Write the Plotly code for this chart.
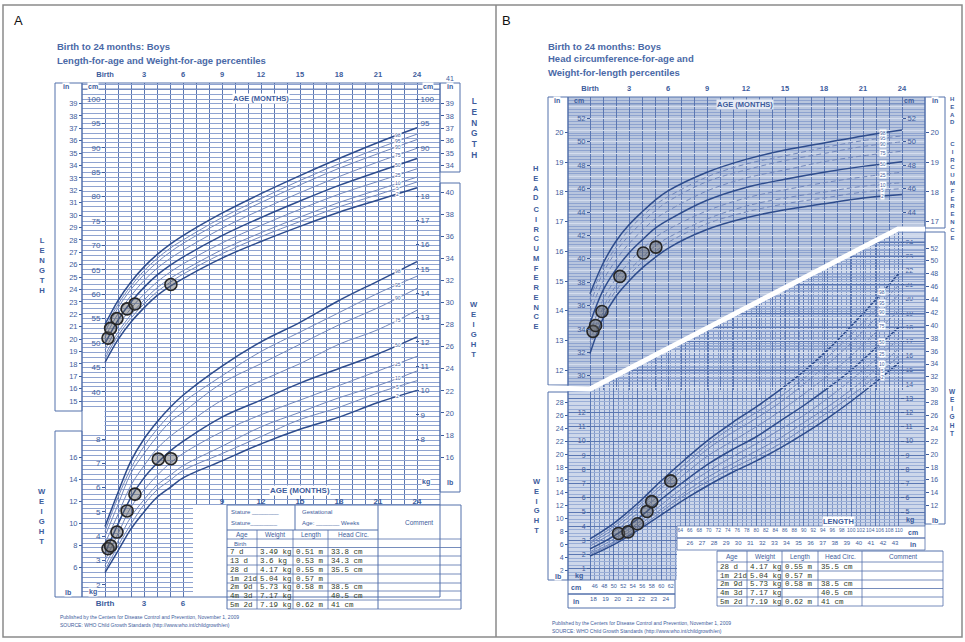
import plotly.graph_objects as go

W, H = 965, 642

# ---------------- data ----------------
PCT = ["2", "5", "10", "25", "50", "75", "90", "95", "98"]
AGE_MO = [0, 1, 2, 3, 4, 5, 6, 9, 12, 15, 18, 21, 24]
AGE_TICKS = [0, 3, 6, 9, 12, 15, 18, 21, 24]
AGE_TICKTEXT = ["Birth", "3", "6", "9", "12", "15", "18", "21", "24"]

LENGTH_FOR_AGE = {
    "2":  [46.0, 50.7, 54.3, 57.2, 59.7, 61.6, 63.2, 67.4, 70.8, 73.9, 76.8, 79.3, 81.8],
    "5":  [46.8, 51.5, 55.1, 58.0, 60.5, 62.4, 64.1, 68.3, 71.8, 74.9, 77.9, 80.4, 83.0],
    "10": [47.5, 52.2, 55.8, 58.8, 61.3, 63.2, 64.8, 69.1, 72.6, 75.8, 78.8, 81.4, 84.0],
    "25": [48.6, 53.4, 57.1, 60.0, 62.5, 64.5, 66.2, 70.5, 74.1, 77.4, 80.5, 83.1, 85.7],
    "50": [49.9, 54.7, 58.4, 61.4, 63.9, 65.9, 67.6, 72.0, 75.7, 79.1, 82.3, 85.1, 87.8],
    "75": [51.2, 56.0, 59.7, 62.8, 65.3, 67.3, 69.0, 73.5, 77.3, 80.8, 84.1, 87.1, 89.9],
    "90": [52.3, 57.2, 61.0, 64.0, 66.5, 68.6, 70.4, 74.9, 78.8, 82.4, 85.8, 88.8, 91.7],
    "95": [53.0, 57.9, 61.7, 64.8, 67.3, 69.4, 71.1, 75.7, 79.6, 83.3, 86.7, 89.9, 92.8],
    "98": [53.8, 58.7, 62.5, 65.6, 68.1, 70.2, 72.0, 76.6, 80.6, 84.3, 87.8, 91.1, 94.1],
}
WEIGHT_FOR_AGE = {
    "2":  [2.5, 3.4, 4.3, 5.0, 5.6, 6.0, 6.4, 7.1, 7.8, 8.4, 8.9, 9.5, 10.0],
    "5":  [2.6, 3.6, 4.5, 5.3, 5.9, 6.3, 6.7, 7.4, 8.1, 8.8, 9.3, 9.9, 10.4],
    "10": [2.8, 3.8, 4.8, 5.5, 6.1, 6.5, 6.9, 7.7, 8.5, 9.1, 9.7, 10.2, 10.8],
    "25": [3.0, 4.1, 5.2, 5.9, 6.5, 7.0, 7.4, 8.3, 9.0, 9.6, 10.2, 10.8, 11.4],
    "50": [3.3, 4.5, 5.6, 6.4, 7.0, 7.5, 7.9, 8.9, 9.6, 10.3, 10.9, 11.5, 12.2],
    "75": [3.7, 4.9, 6.1, 6.9, 7.6, 8.1, 8.5, 9.6, 10.4, 11.1, 11.9, 12.5, 13.3],
    "90": [4.0, 5.3, 6.6, 7.4, 8.1, 8.7, 9.1, 10.3, 11.1, 11.9, 12.7, 13.4, 14.2],
    "95": [4.2, 5.6, 6.8, 7.7, 8.4, 9.0, 9.5, 10.6, 11.6, 12.4, 13.2, 14.0, 14.7],
    "98": [4.4, 5.8, 7.1, 8.0, 8.7, 9.3, 9.8, 11.0, 12.0, 12.8, 13.7, 14.5, 15.3],
}
HEAD_FOR_AGE = {
    "2":  [31.9, 34.9, 36.8, 38.1, 39.2, 40.1, 40.9, 42.5, 43.5, 44.2, 44.7, 45.2, 45.5],
    "5":  [32.4, 35.4, 37.3, 38.6, 39.7, 40.6, 41.4, 43.0, 44.0, 44.7, 45.2, 45.7, 46.0],
    "10": [32.9, 35.8, 37.7, 39.0, 40.1, 41.1, 41.8, 43.4, 44.5, 45.2, 45.7, 46.2, 46.5],
    "25": [33.6, 36.5, 38.3, 39.7, 40.8, 41.8, 42.5, 44.1, 45.2, 45.9, 46.5, 47.0, 47.4],
    "50": [34.5, 37.3, 39.1, 40.5, 41.6, 42.6, 43.3, 45.0, 46.1, 46.8, 47.4, 47.9, 48.3],
    "75": [35.4, 38.1, 39.9, 41.3, 42.4, 43.4, 44.1, 45.8, 46.9, 47.6, 48.3, 48.8, 49.2],
    "90": [36.1, 38.8, 40.6, 42.0, 43.1, 44.1, 44.9, 46.6, 47.6, 48.4, 49.0, 49.6, 50.0],
    "95": [36.6, 39.2, 41.0, 42.5, 43.6, 44.6, 45.3, 47.0, 48.1, 48.8, 49.5, 50.1, 50.5],
    "98": [37.0, 39.6, 41.5, 42.9, 44.0, 45.0, 45.8, 47.4, 48.5, 49.3, 49.9, 50.5, 51.0],
}
WFL_LENGTH_CM = [45, 50, 55, 60, 65, 70, 75, 80, 85, 90, 95, 100, 105, 110]
WEIGHT_FOR_LENGTH = {
    "2":  [1.9, 2.7, 3.7, 4.8, 5.9, 6.9, 7.8, 8.6, 9.5, 10.5, 11.6, 12.8, 14.1, 15.5],
    "5":  [2.0, 2.8, 3.8, 5.0, 6.2, 7.2, 8.1, 8.9, 9.8, 10.9, 12.0, 13.2, 14.5, 16.0],
    "10": [2.1, 2.9, 4.0, 5.2, 6.4, 7.5, 8.4, 9.3, 10.2, 11.3, 12.4, 13.6, 15.0, 16.5],
    "25": [2.2, 3.1, 4.2, 5.5, 6.8, 7.9, 8.9, 9.8, 10.8, 11.8, 13.0, 14.3, 15.7, 17.2],
    "50": [2.4, 3.3, 4.5, 5.9, 7.2, 8.4, 9.4, 10.3, 11.4, 12.5, 13.7, 15.0, 16.5, 18.0],
    "75": [2.6, 3.6, 4.9, 6.3, 7.7, 9.0, 10.0, 11.0, 12.1, 13.3, 14.6, 16.0, 17.6, 19.2],
    "90": [2.8, 3.8, 5.2, 6.7, 8.1, 9.5, 10.6, 11.6, 12.7, 14.0, 15.4, 16.9, 18.6, 20.3],
    "95": [2.9, 4.0, 5.4, 6.9, 8.4, 9.8, 11.0, 12.0, 13.1, 14.4, 15.9, 17.5, 19.2, 21.0],
    "98": [3.1, 4.2, 5.6, 7.2, 8.7, 10.1, 11.3, 12.4, 13.6, 14.9, 16.4, 18.1, 19.9, 21.8],
}

VISIT_LABEL = ["7 d", "13 d", "28 d", "1m 21d", "2m 9d", "4m 3d", "5m 2d"]
VISIT_AGE_MO = [0.23, 0.43, 0.92, 1.70, 2.30, 4.10, 5.07]
VISIT_WEIGHT_KG = [3.49, 3.6, 4.17, 5.04, 5.73, 7.17, 7.19]
VISIT_LENGTH_CM = [51, 53, 55, 57, 58, None, 62]
VISIT_HEAD_CM = [33.8, 34.3, 35.5, None, 38.5, 40.5, 41]

# ---------------- styling ----------------
FONT = "Liberation Sans, Arial, sans-serif"
MONO = "Liberation Mono, Courier New, monospace"
TXT = "#3d5c9c"
TITLE = "#4a69a7"
DARK = "#2e4c8c"
MID = "#7388bb"
GRID_V = "#5b77b2"
GRID_H = "#8fa3d0"
LINE = "#5370ab"
HC_BG = "#b9c6de"
WFL_BG = "#cdd7ea"
PT = dict(size=12, color="rgba(95,95,95,0.45)", line=dict(color="#262626", width=1.6))


def fx(p):
    return p / W


def fy(p):
    return 1 - p / H


def vrange(ref_val, ref_px, ppu, top_px, bot_px):
    return [ref_val - (bot_px - ref_px) / ppu, ref_val + (ref_px - top_px) / ppu]


# ---------------- geometry (pixels) ----------------
A_X0, A_X1, A_Y0, A_Y1 = 82, 440, 83, 597
A_BIRTH, A_PPM = 105, 13.0
a_xr = [(A_X0 - A_BIRTH) / A_PPM, (A_X1 - A_BIRTH) / A_PPM]
a_len = vrange(100, 99, 4.88, A_Y0, A_Y1)
a_wt = vrange(18, 196, 24.3, A_Y0, A_Y1)


def a_mo(px):
    return (px - A_BIRTH) / A_PPM


def a_cm(py):
    return 100 - (py - 99) / 4.88


B_X0, B_X1 = 568, 925
HC_Y0, HC_Y1 = 97, 390
B_BIRTH, B_PPM = 590, 13.0
b_xr = [(B_X0 - B_BIRTH) / B_PPM, (B_X1 - B_BIRTH) / B_PPM]
hc_r = vrange(34, 329, 11.7, HC_Y0, HC_Y1)
WL_Y0, WL_Y1 = 230, 580
WL_PPC, WL_PPK = 4.75, 14.2
wl_xr = [45 + (B_X0 - 590) / WL_PPC, 45 + (B_X1 - 590) / WL_PPC]
wl_yr = vrange(0, 583, WL_PPK, WL_Y0, WL_Y1)


def hc_mo(px):
    return (px - B_BIRTH) / B_PPM


def hc_cm(py):
    return 34 - (py - 329) / 11.7


def wl_cm(px):
    return 45 + (px - 590) / WL_PPC


def wl_kg(py):
    return (583 - py) / WL_PPK


fig = go.Figure()


def dummy(xa, ya):
    fig.add_trace(go.Scatter(x=[None], y=[None], xaxis=xa, yaxis=ya, mode="markers",
                             showlegend=False, hoverinfo="skip"))


def style(p, dashed=False):
    if p in ("2", "50", "98"):
        return dict(color=DARK, width=1.5)
    d = dict(color=MID, width=1.0)
    if dashed:
        d["dash"] = "5px,3px"
    return d


# ---------------- panel A traces ----------------
for p in PCT:
    fig.add_trace(go.Scatter(x=AGE_MO, y=LENGTH_FOR_AGE[p], xaxis="x", yaxis="y", mode="lines",
                             line=style(p), line_shape="spline", hoverinfo="skip", showlegend=False))
for p in PCT:
    fig.add_trace(go.Scatter(x=AGE_MO, y=WEIGHT_FOR_AGE[p], xaxis="x", yaxis="y2", mode="lines",
                             line=style(p), line_shape="spline", hoverinfo="skip", showlegend=False))
la = [(a, l) for a, l in zip(VISIT_AGE_MO, VISIT_LENGTH_CM) if l is not None]
fig.add_trace(go.Scatter(x=[a for a, _ in la], y=[l for _, l in la], xaxis="x", yaxis="y",
                         mode="markers", marker=PT, showlegend=False))
fig.add_trace(go.Scatter(x=VISIT_AGE_MO, y=VISIT_WEIGHT_KG, xaxis="x", yaxis="y2",
                         mode="markers", marker=PT, showlegend=False))
for i in range(3, 11):
    dummy("x", "y%d" % i)
for i in range(2, 5):
    dummy("x%d" % i, "y")

# ---------------- panel B: weight-for-length (drawn first) ----------------
for p in PCT:
    fig.add_trace(go.Scatter(x=WFL_LENGTH_CM, y=WEIGHT_FOR_LENGTH[p], xaxis="x5", yaxis="y11",
                             mode="lines", line=style(p), line_shape="spline",
                             hoverinfo="skip", showlegend=False))
lw = [(l, w) for l, w in zip(VISIT_LENGTH_CM, VISIT_WEIGHT_KG) if l is not None]
fig.add_trace(go.Scatter(x=[l for l, _ in lw], y=[w for _, w in lw], xaxis="x5", yaxis="y11",
                         mode="markers", marker=PT, showlegend=False))
for i in range(12, 16):
    dummy("x5", "y%d" % i)
for i in range(7, 11):
    dummy("x%d" % i, "y11")

# ---------------- panel B: head circumference ----------------
for p in PCT:
    fig.add_trace(go.Scatter(x=AGE_MO, y=HEAD_FOR_AGE[p], xaxis="x6", yaxis="y16", mode="lines",
                             line=style(p, dashed=True), line_shape="spline",
                             hoverinfo="skip", showlegend=False))
ha = [(a, h) for a, h in zip(VISIT_AGE_MO, VISIT_HEAD_CM) if h is not None]
fig.add_trace(go.Scatter(x=[a for a, _ in ha], y=[h for _, h in ha], xaxis="x6", yaxis="y16",
                         mode="markers", marker=PT, showlegend=False))
for i in range(17, 21):
    dummy("x6", "y%d" % i)
dummy("x11", "y16")


# ---------------- axes ----------------
def label_y(overlay, rng, pos_px, side, vals, size=7.5):
    return dict(overlaying=overlay, range=rng, anchor="free", position=fx(pos_px), side=side,
                tickmode="array", tickvals=vals, ticktext=[str(v) for v in vals],
                ticks="outside", ticklen=3, tickwidth=1, tickcolor=TXT,
                tickfont=dict(size=size, color=TXT, family=FONT),
                showgrid=False, zeroline=False, showline=False, fixedrange=True)


def label_x(overlay, rng, vals, text, anchor, side, size=7.5, position=None, bold=False):
    d = dict(overlaying=overlay, range=rng, anchor=anchor, side=side, tickmode="array",
             tickvals=vals, ticktext=["<b>%s</b>" % t if bold else t for t in text], ticks="",
             tickangle=0, tickfont=dict(size=size, color=TXT, family=FONT),
             showgrid=False, zeroline=False, showline=False, fixedrange=True)
    if position is not None:
        d["position"] = position
    return d


in_r = [v / 2.54 for v in a_len]
lb_r = [v * 2.20462 for v in a_wt]
hc_in = [v / 2.54 for v in hc_r]
wl_lb = [v * 2.20462 for v in wl_yr]
wl_in = [v / 2.54 for v in wl_xr]

layout = dict(
    width=W, height=H, margin=dict(l=0, r=0, t=0, b=0), paper_bgcolor="white",
    plot_bgcolor="rgba(0,0,0,0)", showlegend=False, hovermode=False,
    font=dict(family=FONT, color=TXT),
    xaxis=dict(domain=[fx(A_X0), fx(A_X1)], range=a_xr, anchor="y", tickmode="array",
               tickvals=list(range(25)), showticklabels=False, ticks="", showgrid=True,
               gridcolor=GRID_V, gridwidth=1.2, zeroline=False, showline=False, fixedrange=True),
    yaxis=dict(domain=[fy(A_Y1), fy(A_Y0)], range=a_len, anchor="x", tickmode="linear", tick0=0,
               dtick=1, showticklabels=False, ticks="", showgrid=True, gridcolor=GRID_H,
               gridwidth=1, zeroline=False, showline=False, fixedrange=True),
    yaxis2=dict(overlaying="y", anchor="x", range=a_wt, visible=False, fixedrange=True),
    yaxis3=label_y("y", a_len, 105, "left", list(range(40, 101, 5)), 8),
    yaxis4=label_y("y", in_r, 82, "left", list(range(15, 40)), 7.5),
    yaxis5=label_y("y", a_wt, 105, "left", list(range(2, 9)), 8),
    yaxis6=label_y("y", lb_r, 82, "left", list(range(6, 17, 2)), 7.5),
    yaxis7=label_y("y", a_len, 415, "right", [90, 95, 100], 8),
    yaxis8=label_y("y", in_r, 440, "right", list(range(34, 40)), 7.5),
    yaxis9=label_y("y", a_wt, 415, "right", list(range(8, 19)), 8),
    yaxis10=label_y("y", lb_r, 440, "right", list(range(16, 41, 2)), 7.5),
    xaxis2=label_x("x", a_xr, AGE_TICKS, AGE_TICKTEXT, "free", "top", 7.5,
                   position=fy(78), bold=True),
    xaxis3=label_x("x", a_xr, AGE_TICKS[:3], AGE_TICKTEXT[:3], "y", "bottom", 8, bold=True),
    xaxis4=label_x("x", a_xr, AGE_TICKS[3:], AGE_TICKTEXT[3:], "free", "bottom", 8,
                   position=fy(495), bold=True),
    # weight-for-length
    xaxis5=dict(domain=[fx(B_X0), fx(B_X1)], range=wl_xr, anchor="y11", tickmode="array",
                tickvals=list(range(45, 111, 5)), showticklabels=False, ticks="", showgrid=True,
                gridcolor=GRID_V, gridwidth=1, zeroline=False, showline=False, fixedrange=True,
                minor=dict(tickmode="array", tickvals=list(range(45, 111)), showgrid=True,
                           gridcolor="#7e95c6", gridwidth=0.7, ticks="")),
    yaxis11=dict(domain=[fy(WL_Y1), fy(WL_Y0)], range=wl_yr, anchor="x5", tickmode="linear",
                 tick0=0, dtick=1, showticklabels=False, ticks="", showgrid=True,
                 gridcolor=GRID_V, gridwidth=1, zeroline=False, showline=False, fixedrange=True,
                 minor=dict(tickmode="linear", tick0=0, dtick=0.25, showgrid=True,
                            gridcolor="#9aaed6", gridwidth=0.6, ticks="")),
    yaxis12=label_y("y11", wl_yr, 590, "left", list(range(1, 13)), 7),
    yaxis13=label_y("y11", wl_lb, 568, "left", list(range(2, 29, 2)), 7),
    yaxis14=label_y("y11", wl_yr, 900, "right", list(range(5, 25)), 7),
    yaxis15=label_y("y11", wl_lb, 925, "right", list(range(12, 53, 2)), 7),
    xaxis7=label_x("x5", wl_xr, list(range(46, 63, 2)), [str(v) for v in range(46, 63, 2)],
                   "free", "bottom", 5.5, position=fy(581)),
    xaxis8=label_x("x5", wl_in, list(range(18, 25)), [str(v) for v in range(18, 25)],
                   "free", "bottom", 6, position=fy(594)),
    xaxis9=label_x("x5", wl_xr, list(range(64, 111, 2)), [str(v) for v in range(64, 111, 2)],
                   "free", "bottom", 5, position=fy(526)),
    xaxis10=label_x("x5", wl_in, list(range(26, 44)), [str(v) for v in range(26, 44)],
                    "free", "bottom", 6, position=fy(538)),
    # head circumference
    xaxis6=dict(domain=[fx(B_X0), fx(B_X1)], range=b_xr, anchor="y16", tickmode="array",
                tickvals=list(range(25)), showticklabels=False, ticks="", showgrid=True,
                gridcolor=GRID_V, gridwidth=1, zeroline=False, showline=False, fixedrange=True),
    yaxis16=dict(domain=[fy(HC_Y1), fy(HC_Y0)], range=hc_r, anchor="x6", tickmode="linear",
                 tick0=0, dtick=1, showticklabels=False, ticks="", showgrid=True,
                 gridcolor="#d3dcee", gridwidth=1, zeroline=False, showline=False, fixedrange=True,
                 minor=dict(tickmode="linear", tick0=0, dtick=0.25, showgrid=True,
                            gridcolor="#8ea3cf", gridwidth=0.6, ticks="")),
    yaxis17=label_y("y16", hc_r, 590, "left", list(range(30, 53, 2)), 7.5),
    yaxis18=label_y("y16", hc_in, 568, "left", list(range(12, 21)), 7.5),
    yaxis19=label_y("y16", hc_r, 902, "right", list(range(44, 53, 2)), 7.5),
    yaxis20=label_y("y16", hc_in, 925, "right", list(range(17, 21)), 7.5),
    xaxis11=label_x("x6", b_xr, AGE_TICKS, AGE_TICKTEXT, "free", "top", 7.5,
                    position=fy(92), bold=True),
)

# ---------------- shapes ----------------
shapes = []


def prect(x0, y0, x1, y1, color=LINE, width=1, fill=None, layer="above"):
    shapes.append(dict(type="rect", xref="paper", yref="paper", x0=fx(x0), x1=fx(x1),
                       y0=fy(y1), y1=fy(y0), line=dict(color=color, width=width),
                       fillcolor=fill or "rgba(0,0,0,0)", layer=layer))


def pline(x0, y0, x1, y1, color=LINE, width=1, layer="above"):
    shapes.append(dict(type="line", xref="paper", yref="paper", x0=fx(x0), y0=fy(y0),
                       x1=fx(x1), y1=fy(y1), line=dict(color=color, width=width), layer=layer))


# backgrounds of panel B
shapes.append(dict(type="rect", xref="paper", yref="paper", x0=fx(B_X0), x1=fx(B_X1),
                   y0=fy(WL_Y1), y1=fy(WL_Y0), fillcolor=WFL_BG, line=dict(width=0), layer="below"))
mask_pts = [(568, 97), (925, 97), (925, 230), (898, 230), (590, 390), (568, 390)]
shapes.append(dict(type="path", xref="x6", yref="y16", layer="below", fillcolor=HC_BG,
                   line=dict(width=0),
                   path="M " + " L ".join("%.4f,%.4f" % (hc_mo(x), hc_cm(y)) for x, y in mask_pts) + " Z"))
# white areas inside plots (above grid, below curves)
shapes.append(dict(type="rect", xref="x", yref="y", x0=a_mo(193), x1=a_mo(462), y0=a_cm(612),
                   y1=a_cm(505), fillcolor="white", line=dict(width=0), layer="between"))
shapes.append(dict(type="rect", xref="x", yref="y", x0=a_mo(80), x1=a_mo(104.5), y0=a_cm(431),
                   y1=a_cm(411), fillcolor="white", line=dict(width=0), layer="between"))
shapes.append(dict(type="rect", xref="x5", yref="y11", x0=wl_cm(677), x1=wl_cm(930),
                   y0=wl_kg(612), y1=wl_kg(526), fillcolor="white", line=dict(width=0),
                   layer="between"))

# frame
prect(3, 5, 962, 637, color="#8a8a8a", width=1.5)
pline(496, 5, 496, 637, color="#8a8a8a", width=1.5)
# panel A boxes
prect(55, 83, 82, 411)
prect(55, 431, 82, 597)
prect(82, 83, 440, 597)
prect(440, 83, 460, 172)
prect(440, 183, 460, 492)
pline(82, 89, 440, 89, width=0.8)
# panel B boxes
prect(548, 97, 568, 385)
prect(548, 392, 568, 580)
prect(925, 97, 945, 228)
prect(925, 232, 945, 524)
prect(568, 580, 675, 594)
prect(568, 594, 675, 608)
prect(677, 526, 925, 538, width=0.8)
prect(677, 538, 925, 550, width=0.8)
pline(568, 97, 925, 97)
pline(568, 97, 568, 580)
pline(925, 97, 925, 526)
pline(568, 104, 925, 104, width=0.6)
# white separating band
shapes.append(dict(type="path", xref="paper", yref="paper", layer="above",
                   line=dict(color="white", width=5),
                   path="M %f,%f L %f,%f L %f,%f L %f,%f" % (fx(548), fy(388), fx(590), fy(389),
                                                             fx(898), fy(229), fx(925), fy(229))))

# ---------------- annotations ----------------
anns = []


def txt(s, x, y, size=8, color=TXT, xa="center", ya="middle", family=FONT, bg=None):
    d = dict(text=s, x=fx(x), y=fy(y), xref="paper", yref="paper", showarrow=False,
             xanchor=xa, yanchor=ya, font=dict(size=size, color=color, family=family))
    if bg:
        d.update(bgcolor=bg, borderpad=0)
    anns.append(d)


def vtxt(word, x, y, size):
    txt("<b>" + "<br>".join(word) + "</b>", x, y, size=size)


txt("A", 12, 21, size=13, color="#111", xa="left")
txt("B", 500, 21, size=13, color="#111", xa="left")
txt("<b>Birth to 24 months: Boys</b>", 55, 47, 9.5, TITLE, xa="left")
txt("<b>Length-for-age and Weight-for-age percentiles</b>", 55, 61, 9.5, TITLE, xa="left")
txt("<b>Birth to 24 months: Boys</b>", 546, 46, 9.5, TITLE, xa="left")
txt("<b>Head circumference-for-age and</b>", 546, 59, 9.5, TITLE, xa="left")
txt("<b>Weight-for-length percentiles</b>", 546, 72, 9.5, TITLE, xa="left")

vtxt("LENGTH", 42, 266, 7.7)
vtxt("WEIGHT", 42, 516, 7.7)
vtxt("LENGTH", 474, 128, 8.3)
vtxt("WEIGHT", 474, 330, 7.7)
vtxt("HEAD", 536, 183, 7.5)
vtxt("CIRCUMFERENCE", 536, 268, 7.5)
vtxt("WEIGHT", 537, 506, 7.5)
vtxt("HEAD", 952, 111, 6)
vtxt("CIRCUMFERENCE", 952, 191, 6)
vtxt("WEIGHT", 952, 412, 6.5)

for s, x, y in [("in", 66, 87), ("cm", 93, 87), ("cm", 428, 87), ("in", 450, 87),
                ("lb", 68, 592), ("kg", 93, 592), ("kg", 426, 482), ("lb", 450, 482),
                ("in", 557, 101), ("cm", 579, 101), ("cm", 909, 101), ("in", 935, 101),
                ("lb", 558, 576), ("kg", 579, 576), ("kg", 910, 520), ("lb", 935, 520)]:
    txt("<b>%s</b>" % s, x, y, 7, bg="white" if x < 560 or x > 925 else None)
for s, x, y in [("cm", 576, 587), ("in", 576, 601), ("cm", 913, 532), ("in", 913, 544)]:
    txt("<b>%s</b>" % s, x, y, 7)
txt("41", 450, 78, 7)
txt("<b>AGE (MONTHS)</b>", 261, 99, 7.5, bg="white")
txt("<b>AGE (MONTHS)</b>", 300, 490, 8, bg="white")
txt("<b>AGE (MONTHS)</b>", 745, 104, 7.5, bg="#e6ebf5")
txt("<b>LENGTH</b>", 838, 521, 7.5, bg="white")

# percentile labels
for p in PCT:
    v = LENGTH_FOR_AGE[p]
    anns.append(dict(text=p, x=22.5, y=(v[-2] + v[-1]) / 2, xref="x", yref="y", showarrow=False,
                     font=dict(size=5, color=TXT), bgcolor="white", borderpad=0))
    v = WEIGHT_FOR_AGE[p]
    anns.append(dict(text=p, x=22.5, y=(v[-2] + v[-1]) / 2, xref="x", yref="y2", showarrow=False,
                     font=dict(size=5, color=TXT), bgcolor="white", borderpad=0))
    v = HEAD_FOR_AGE[p]
    anns.append(dict(text=p, x=22.5, y=(v[-2] + v[-1]) / 2, xref="x6", yref="y16", showarrow=False,
                     font=dict(size=5, color=TXT), bgcolor="white", borderpad=0))
    v = WEIGHT_FOR_LENGTH[p]
    anns.append(dict(text=p, x=106.5, y=v[-2] + (v[-1] - v[-2]) * 0.3, xref="x5", yref="y11",
                     showarrow=False, font=dict(size=5, color=TXT), bgcolor="white", borderpad=0))


def fmt_row(i):
    w = "%g kg" % VISIT_WEIGHT_KG[i]
    ln = "" if VISIT_LENGTH_CM[i] is None else "%.2f m" % (VISIT_LENGTH_CM[i] / 100)
    hc = "" if VISIT_HEAD_CM[i] is None else "%g cm" % VISIT_HEAD_CM[i]
    return [VISIT_LABEL[i], w, ln, hc]


# table A
TA_COLS = [227, 257, 293, 328, 378, 461]
TA_ROWS = [530, 539, 547.5, 556, 565, 574, 583, 591, 600, 609]
pline(227, 505, 461, 505)
pline(227, 505, 227, 609)
pline(461, 505, 461, 609)
pline(295, 505, 295, 530)
pline(378, 505, 378, 609)
pline(227, 530, 378, 530)
for y in TA_ROWS[1:]:
    pline(227, y, 461, y, width=0.8)
for x in TA_COLS[1:4]:
    pline(x, 530, x, 609, width=0.8)
txt("Stature ________", 229, 512, 6, xa="left")
txt("Stature________", 229, 523, 6, xa="left")
txt("Gestational", 300, 512, 6, xa="left")
txt("Age: _______ Weeks", 300, 523, 6, xa="left")
txt("Comment", 419, 522, 6.5)
for j, h in enumerate(["Age", "Weight", "Length", "Head Circ."]):
    txt(h, (TA_COLS[j] + TA_COLS[j + 1]) / 2, 534.5, 6.5)
txt("Birth", 232, 543.5, 6, xa="left")
for i in range(len(VISIT_LABEL)):
    yc = (TA_ROWS[i + 2] + TA_ROWS[i + 3]) / 2
    for j, s in enumerate(fmt_row(i)):
        txt(s, TA_COLS[j] + 1, yc, 7.5, color="#2f3b1f", xa="left", family=MONO)

# table B
TB_COLS = [717, 747, 782, 818, 862, 943]
TB_ROWS = [551, 562, 571, 580, 588.5, 597, 606]
pline(717, 551, 943, 551)
for x in TB_COLS:
    pline(x, 551, x, 606, width=0.8)
for y in TB_ROWS[1:]:
    pline(717, y, 943, y, width=0.8)
for j, h in enumerate(["Age", "Weight", "Length", "Head Circ.", "Comment"]):
    txt(h, (TB_COLS[j] + TB_COLS[j + 1]) / 2, 556.5, 6.5)
for k, i in enumerate(range(2, len(VISIT_LABEL))):
    yc = (TB_ROWS[k + 1] + TB_ROWS[k + 2]) / 2
    for j, s in enumerate(fmt_row(i)):
        txt(s, TB_COLS[j] + 1, yc, 7.5, color="#2f3b1f", xa="left", family=MONO)

# footnotes
for x0, y0 in [(58, 617), (550, 623)]:
    txt("Published by the Centers for Disease Control and Prevention, November 1, 2009",
        x0, y0, 5, xa="left")
    txt("SOURCE: WHO Child Growth Standards (http://www.who.int/childgrowth/en)",
        x0, y0 + 8, 5, xa="left")

layout["shapes"] = shapes
layout["annotations"] = anns
fig.update_layout(**layout)
fig.write_html("out.html", config={"displayModeBar": False},
               post_script="document.body.style.margin='0';document.body.style.overflow='hidden';")
